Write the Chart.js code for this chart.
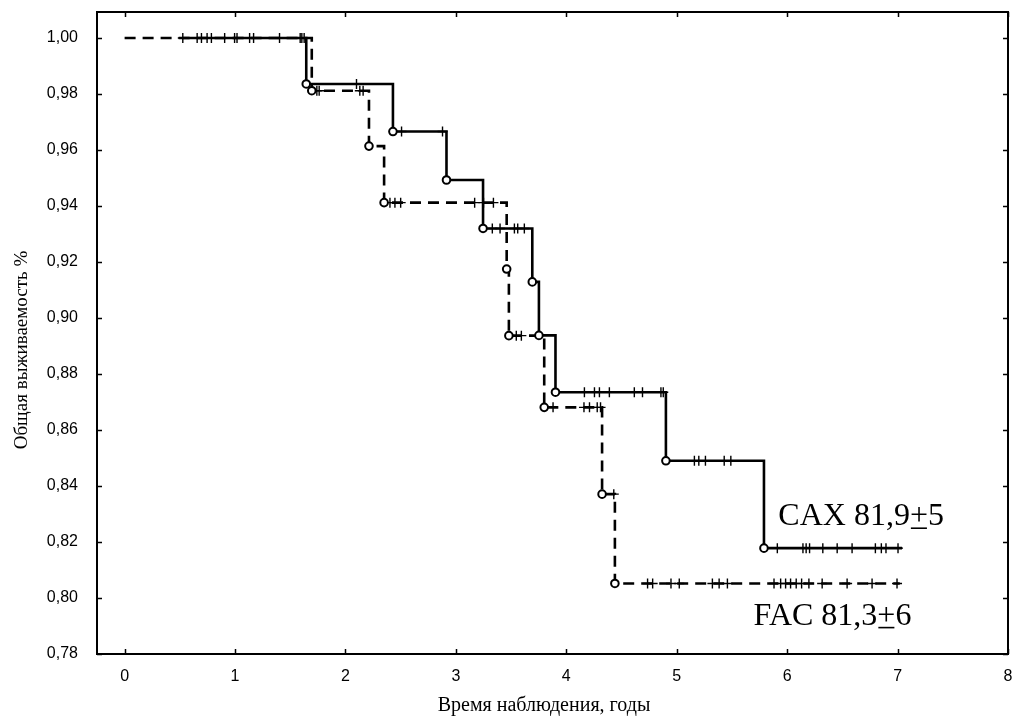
<!DOCTYPE html>
<html>
<head>
<meta charset="utf-8">
<title>Общая выживаемость</title>
<script src="https://cdn.jsdelivr.net/npm/chart.js@4.4.1/dist/chart.umd.min.js"></script>
<style>
  html, body { margin: 0; padding: 0; background: #fff; }
  #wrap { width: 1016px; height: 725px; position: relative; }
</style>
</head>
<body>
<div id="wrap"><canvas id="survChart"></canvas></div>
<script>
// Деления осей
const X_TICKS = [0, 1, 2, 3, 4, 5, 6, 7, 8];
const Y_TICKS = [0.78, 0.80, 0.82, 0.84, 0.86, 0.88, 0.90, 0.92, 0.94, 0.96, 0.98, 1.00];

// CAX: моменты событий и кумулятивная доля выживших
const caxStart = 0.527;
const caxEnd = 7.04;
const caxEventTimes = [1.645, 2.43, 2.915, 3.246, 3.692, 3.752, 3.902, 4.902, 5.79];
const caxSurvival = [0.9836, 0.9666, 0.9493, 0.9320, 0.9129, 0.8938, 0.8735, 0.8490, 0.8178];
const caxCensored = [0.527, 0.657, 0.696, 0.747, 0.786, 0.906, 0.996, 1.018, 1.132, 1.168,
    1.403, 1.590, 1.605, 1.626, 2.10, 2.508, 2.879, 3.33, 3.40, 3.53, 3.56, 3.62,
    4.164, 4.255, 4.30, 4.39, 4.616, 4.69, 4.857, 4.878, 5.16, 5.20, 5.26, 5.43, 5.49,
    5.911, 6.143, 6.172, 6.203, 6.323, 6.453, 6.588, 6.799, 6.853, 6.895, 7.004];

// FAC
const facStart = 0;
const facEnd = 7.02;
const facEventTimes = [1.695, 2.213, 2.35, 3.46, 3.48, 3.80, 4.324, 4.44];
const facSurvival = [0.9812, 0.9614, 0.9412, 0.9175, 0.8937, 0.8681, 0.8371, 0.8052];
const facCensored = [1.741, 1.762, 2.13, 2.16, 2.403, 2.448, 2.50, 3.17, 3.25, 3.34,
    3.547, 3.593, 3.88, 4.16, 4.21, 4.28, 4.31, 4.43, 4.736, 4.782, 4.948, 5.023,
    5.323, 5.384, 5.459, 5.881, 5.941, 5.986, 6.031, 6.082, 6.131, 6.197, 6.317,
    6.543, 6.769, 6.995];

const FONT_SANS = "'Liberation Sans', Arial, sans-serif";
const FONT_SERIF = "'Liberation Serif', 'Times New Roman', serif";

// Ступенчатая кривая: старт на 1,0, затем значения после каждого события
function stepCurve(start, end, times, surv) {
    const pts = [{ x: start, y: 1 }];
    times.forEach((t, i) => pts.push({ x: t, y: surv[i] }));
    pts.push({ x: end, y: surv[surv.length - 1] });
    return pts;
}

// Значение кривой в момент t (для отметок цензурирования)
function survivalAt(times, surv, t) {
    let s = 1;
    times.forEach((ti, i) => { if (ti <= t) s = surv[i]; });
    return s;
}

function eventPoints(times, surv) {
    return times.map((t, i) => ({ x: t, y: surv[i] }));
}

function censorPoints(list, times, surv) {
    return list.map(t => ({ x: t, y: survivalAt(times, surv, t) }));
}

// без отступов под крайние подписи делений
function noLabelPadding(scale) {
    scale.paddingTop = 0;
    scale.paddingBottom = 0;
    scale.paddingLeft = 0;
    scale.paddingRight = 0;
}

// Рамка, внутренние засечки, подписи осей и групп
const framePlugin = {
    id: 'framePlugin',
    afterDraw(chart) {
        const ctx = chart.ctx;
        const a = chart.chartArea;
        const xs = chart.scales.x;
        const ys = chart.scales.y;
        const tick = 5;

        ctx.save();
        ctx.strokeStyle = '#000';
        ctx.lineWidth = 2;
        ctx.strokeRect(a.left, a.top, a.right - a.left, a.bottom - a.top);

        ctx.lineWidth = 1.5;
        ctx.beginPath();
        X_TICKS.forEach(v => {
            const px = Math.round(xs.getPixelForValue(v)) + 0.5;
            ctx.moveTo(px, a.bottom); ctx.lineTo(px, a.bottom - tick);
            ctx.moveTo(px, a.top); ctx.lineTo(px, a.top + tick);
        });
        Y_TICKS.forEach(v => {
            const py = Math.round(ys.getPixelForValue(v)) + 0.5;
            ctx.moveTo(a.left, py); ctx.lineTo(a.left + tick, py);
            ctx.moveTo(a.right, py); ctx.lineTo(a.right - tick, py);
        });
        ctx.stroke();

        // подписи осей
        ctx.fillStyle = '#000';
        ctx.textAlign = 'center';
        ctx.textBaseline = 'middle';
        ctx.font = '20px ' + FONT_SERIF;
        ctx.fillText('Время наблюдения, годы', 544, 706);

        ctx.font = '19px ' + FONT_SERIF;
        ctx.save();
        ctx.translate(22, 350);
        ctx.rotate(-Math.PI / 2);
        ctx.fillText('Общая выживаемость %', 0, 0);
        ctx.restore();

        // подписи групп с подчёркнутым плюсом
        drawGroupLabel(ctx, xs, ys, 'CAX 81,9', '5', 5.92, 0.826);
        drawGroupLabel(ctx, xs, ys, 'FAC 81,3', '6', 5.695, 0.7905);
        ctx.restore();
    }
};

function drawGroupLabel(ctx, xs, ys, head, tail, xv, yv) {
    ctx.font = '32px ' + FONT_SERIF;
    ctx.textAlign = 'left';
    ctx.textBaseline = 'alphabetic';
    let x = xs.getPixelForValue(xv);
    const y = ys.getPixelForValue(yv);
    ctx.fillText(head, x, y);
    x += ctx.measureText(head).width;
    const wPlus = ctx.measureText('+').width;
    ctx.fillText('+', x, y);
    ctx.lineWidth = 1.6;
    ctx.beginPath();
    ctx.moveTo(x + 1, y + 3);
    ctx.lineTo(x + wPlus - 1, y + 3);
    ctx.stroke();
    ctx.fillText(tail, x + wPlus, y);
}

const ctx = document.getElementById('survChart');

new Chart(ctx, {
    type: 'scatter',
    data: {
        datasets: [
            {
                label: 'CAX события',
                data: eventPoints(caxEventTimes, caxSurvival),
                pointStyle: 'circle',
                pointRadius: 3.8,
                pointBorderWidth: 2,
                pointBorderColor: '#000',
                pointBackgroundColor: '#fff',
                showLine: false
            },
            {
                label: 'FAC события',
                data: eventPoints(facEventTimes, facSurvival),
                pointStyle: 'circle',
                pointRadius: 3.8,
                pointBorderWidth: 2,
                pointBorderColor: '#000',
                pointBackgroundColor: '#fff',
                showLine: false
            },
            {
                label: 'CAX цензурированные',
                data: censorPoints(caxCensored, caxEventTimes, caxSurvival),
                pointStyle: 'cross',
                pointRadius: 5,
                pointBorderWidth: 1.4,
                pointBorderColor: '#000',
                showLine: false
            },
            {
                label: 'FAC цензурированные',
                data: censorPoints(facCensored, facEventTimes, facSurvival),
                pointStyle: 'cross',
                pointRadius: 5,
                pointBorderWidth: 1.4,
                pointBorderColor: '#000',
                showLine: false
            },
            {
                label: 'CAX',
                data: stepCurve(caxStart, caxEnd, caxEventTimes, caxSurvival),
                showLine: true,
                stepped: 'before',
                borderColor: '#000',
                borderWidth: 2.6,
                pointRadius: 0
            },
            {
                label: 'FAC',
                data: stepCurve(facStart, facEnd, facEventTimes, facSurvival),
                showLine: true,
                stepped: 'before',
                borderColor: '#000',
                borderWidth: 2.6,
                borderDash: [11, 7],
                pointRadius: 0
            }
        ]
    },
    options: {
        responsive: true,
        maintainAspectRatio: false,
        animation: false,
        events: [],
        layout: { autoPadding: false, padding: { top: 12, right: 8, left: 0, bottom: 0 } },
        plugins: {
            legend: { display: false },
            tooltip: { enabled: false }
        },
        scales: {
            x: {
                type: 'linear',
                min: -0.25,
                max: 8,
                grid: { display: false, drawTicks: false },
                border: { display: false },
                ticks: {
                    color: '#000',
                    padding: 13,
                    font: { family: FONT_SANS, size: 16 },
                    callback: v => String(v)
                },
                afterBuildTicks: scale => { scale.ticks = X_TICKS.map(v => ({ value: v })); },
                afterFit: scale => { scale.height = 71; noLabelPadding(scale); }
            },
            y: {
                type: 'linear',
                min: 0.78,
                max: 1.0093,
                grid: { display: false, drawTicks: false },
                border: { display: false },
                ticks: {
                    color: '#000',
                    padding: 19,
                    font: { family: FONT_SANS, size: 16 },
                    callback: v => v.toFixed(2).replace('.', ',')
                },
                afterBuildTicks: scale => { scale.ticks = Y_TICKS.map(v => ({ value: v })); },
                afterFit: scale => { scale.width = 97; noLabelPadding(scale); }
            }
        }
    },
    plugins: [framePlugin]
});
</script>
</body>
</html>
